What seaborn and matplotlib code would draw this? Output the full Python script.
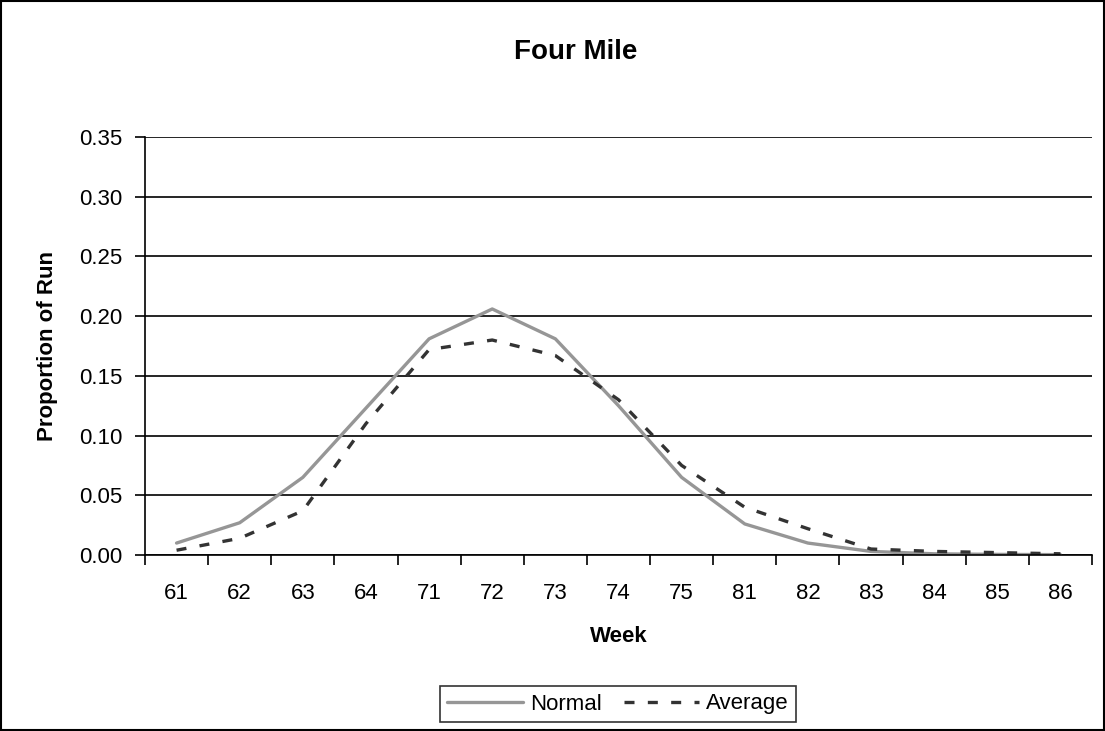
import matplotlib
matplotlib.use("Agg")
import matplotlib.pyplot as plt
import seaborn as sns
import pandas as pd
from matplotlib.patches import Rectangle
from matplotlib.ticker import FixedLocator
from matplotlib.lines import Line2D

weeks = ["61", "62", "63", "64", "71", "72", "73", "74", "75", "81", "82", "83", "84", "85", "86"]
normal = [0.010, 0.027, 0.065, 0.123, 0.181, 0.206, 0.181, 0.125, 0.065, 0.026, 0.010, 0.003, 0.001, 0.0005, 0.0003]
average = [0.004, 0.014, 0.037, 0.110, 0.172, 0.180, 0.167, 0.130, 0.075, 0.040, 0.022, 0.005, 0.003, 0.002, 0.001]

sns.set_style("white", {"text.color": "black", "axes.labelcolor": "black",
                        "xtick.color": "black", "ytick.color": "black",
                        "xtick.bottom": True, "ytick.left": True})
plt.rcParams['font.family'] = ['Liberation Sans', 'DejaVu Sans']

df = pd.DataFrame({
    "Week": weeks * 2,
    "value": normal + average,
    "series": ["Normal"] * len(weeks) + ["Average"] * len(weeks),
})

GRAY = "#969696"
DARK = "#333333"
LW = 2.4
DASH = (3.0, 4.0)

fig = plt.figure(figsize=(11.05, 7.31), dpi=100)
ax = fig.add_axes([145 / 1105, 1 - 555 / 731, (1092 - 145) / 1105, (555 - 137) / 731])

sns.lineplot(data=df, x="Week", y="value", hue="series", style="series",
             palette={"Normal": GRAY, "Average": DARK},
             dashes={"Normal": "", "Average": DASH},
             linewidth=LW, sort=False, ax=ax, legend=False)

ax.set_xlim(-0.5, len(weeks) - 0.5)
ax.set_ylim(0, 0.35)
ax.set_yticks([0, 0.05, 0.10, 0.15, 0.20, 0.25, 0.30, 0.35])
ax.set_yticklabels([f"{v:.2f}" for v in ax.get_yticks()])
ax.set_xticks(range(len(weeks)))
ax.set_xticklabels(weeks)
ax.xaxis.set_minor_locator(FixedLocator([i - 0.5 for i in range(len(weeks) + 1)]))
ax.tick_params(axis="x", which="major", bottom=True, length=0, pad=20, labelsize=16, labelcolor="black")
ax.tick_params(axis="x", which="minor", bottom=True, length=7, width=1.2, color="black", direction="out")
ax.tick_params(axis="y", which="major", left=True, length=7, width=1.2, color="black", direction="out",
               labelsize=16, pad=9, labelcolor="black")
ax.yaxis.grid(True, color="black", linewidth=1.2)
ax.set_axisbelow(True)
for s in ["top", "right"]:
    ax.spines[s].set_visible(False)
for s in ["left", "bottom"]:
    ax.spines[s].set_color("black")
    ax.spines[s].set_linewidth(1.2)

ax.set_xlabel("Week", fontsize=16, fontweight="bold", va="center", color="black")
ax.xaxis.set_label_coords(0.5, (555 - 636) / 418)
ax.set_ylabel("Proportion of Run", fontsize=16, fontweight="bold", va="center", color="black")
ax.yaxis.set_label_coords((48 - 145) / 947, 0.5)
fig.text(576 / 1105, 1 - 52 / 731, "Four Mile", ha="center", va="center", fontsize=20,
         fontweight="bold", color="black")

handles = [Line2D([], [], color=GRAY, linewidth=LW),
           Line2D([], [], color=DARK, linewidth=LW, dashes=DASH)]
leg = fig.legend(handles, ["Normal", "Average"], loc="center", ncol=2,
                 bbox_to_anchor=(618 / 1105, 1 - 704 / 731), frameon=True, fancybox=False,
                 fontsize=16, handlelength=3.4, handletextpad=0.3, columnspacing=1.0,
                 borderpad=0.35, borderaxespad=0)
leg.get_frame().set_edgecolor("black")
leg.get_frame().set_linewidth(1.2)
for t in leg.get_texts():
    t.set_color("black")

fig.patches.append(Rectangle((0.001, 0.001), 0.998, 0.997, transform=fig.transFigure,
                             fill=False, edgecolor="black", linewidth=1.5))

fig.savefig("out.png", dpi=100)
